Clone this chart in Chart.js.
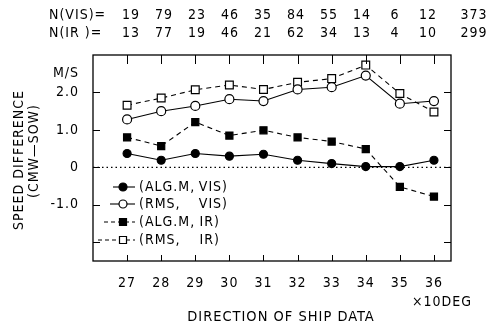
<!DOCTYPE html>
<html>
<head>
<meta charset="utf-8">
<script src="https://cdn.jsdelivr.net/npm/chart.js@4/dist/chart.umd.min.js"></script>
<style>
  html, body { margin: 0; padding: 0; background: #fff; }
  #wrap { width: 487px; height: 328px; position: relative; }
</style>
</head>
<body>
<div id="wrap"><canvas id="chart"></canvas></div>
<script>
// direction bins (x10 deg)
const directions = [27, 28, 29, 30, 31, 32, 33, 34, 35, 36];
const nVis = [19, 79, 23, 46, 35, 84, 55, 14, 6, 12];
const nIr = [13, 77, 19, 46, 21, 62, 34, 13, 4, 10];
const nVisTotal = 373;
const nIrTotal = 299;

// speed difference (CMW - SOW), m/s
const algVis = [0.37, 0.19, 0.37, 0.30, 0.35, 0.19, 0.10, 0.02, 0.02, 0.19];
const rmsVis = [1.28, 1.50, 1.64, 1.82, 1.77, 2.08, 2.14, 2.45, 1.70, 1.77];
const algIr = [0.80, 0.57, 1.21, 0.85, 0.99, 0.80, 0.69, 0.49, -0.52, -0.78];
const rmsIr = [1.66, 1.85, 2.07, 2.20, 2.08, 2.27, 2.37, 2.73, 1.97, 1.48];

const yTicks = [-2, -1, 0, 1, 2];
const legendLabels = ['(ALG.M,VIS)', '(RMS,  VIS)', '(ALG.M,IR)', '(RMS,  IR)'];

const FONT = '"Liberation Sans Narrow", "DejaVu Sans Condensed", "Arial Narrow", sans-serif';

const toPoints = vals => directions.map((d, i) => ({ x: d, y: vals[i] }));

const datasets = [
  { label: legendLabels[0], data: toPoints(algVis), pointStyle: 'circle', pointRadius: 4,
    pointBackgroundColor: '#000', borderDash: [] },
  { label: legendLabels[1], data: toPoints(rmsVis), pointStyle: 'circle', pointRadius: 4.5,
    pointBackgroundColor: '#fff', borderDash: [] },
  { label: legendLabels[2], data: toPoints(algIr), pointStyle: 'rect', pointRadius: 5,
    pointBackgroundColor: '#000', borderDash: [5, 4] },
  { label: legendLabels[3], data: toPoints(rmsIr), pointStyle: 'rect', pointRadius: 5.5,
    pointBackgroundColor: '#fff', borderDash: [5, 4] }
].map(ds => ({
  ...ds,
  borderColor: '#000',
  borderWidth: 1.1,
  pointBorderColor: '#000',
  pointBorderWidth: 1.2,
  tension: 0
}));

// frame, inward ticks, zero line, texts and legend
const decorations = {
  id: 'decorations',
  beforeDraw(chart) {
    // wider letter spacing, like the typewriter lettering of the original
    chart.ctx.letterSpacing = '1px';
  },
  beforeDatasetsDraw(chart) {
    const { ctx, chartArea: a, scales: { y } } = chart;
    ctx.save();
    ctx.strokeStyle = '#000';
    ctx.lineWidth = 1.2;
    ctx.setLineDash([1.5, 3]);
    ctx.beginPath();
    ctx.moveTo(a.left, y.getPixelForValue(0));
    ctx.lineTo(a.right, y.getPixelForValue(0));
    ctx.stroke();
    ctx.restore();
  },
  afterDraw(chart) {
    const { ctx, chartArea: a, scales: { x, y } } = chart;
    ctx.save();
    ctx.strokeStyle = '#000';
    ctx.lineWidth = 1.3;
    ctx.strokeRect(a.left, a.top, a.right - a.left, a.bottom - a.top);

    ctx.lineWidth = 1;
    ctx.beginPath();
    directions.forEach(d => {
      const px = Math.round(x.getPixelForValue(d)) + 0.5;
      ctx.moveTo(px, a.top); ctx.lineTo(px, a.top + 9);
      ctx.moveTo(px, a.bottom); ctx.lineTo(px, a.bottom - 6);
    });
    yTicks.forEach(v => {
      const py = Math.round(y.getPixelForValue(v)) + 0.5;
      ctx.moveTo(a.left, py); ctx.lineTo(a.left + 7, py);
      ctx.moveTo(a.right, py); ctx.lineTo(a.right - 7, py);
    });
    ctx.stroke();

    ctx.fillStyle = '#000';
    ctx.font = '14px ' + FONT;
    ctx.letterSpacing = '1px';
    ctx.textBaseline = 'middle';

    // sample counts on top
    ctx.textAlign = 'left';
    ctx.fillText('N(VIS)=', 49, 15);
    ctx.fillText('N(IR )=', 49, 33);
    ctx.textAlign = 'center';
    directions.forEach((d, i) => {
      const px = 131 + 33 * i;
      ctx.fillText(String(nVis[i]), px, 15);
      ctx.fillText(String(nIr[i]), px, 33);
    });
    ctx.fillText(String(nVisTotal), 474, 15);
    ctx.fillText(String(nIrTotal), 474, 33);

    // unit label
    ctx.textAlign = 'right';
    ctx.fillText('M/S', 79, y.getPixelForValue(2.5));

    // x-axis unit and title
    ctx.textAlign = 'left';
    ctx.fillText('\u00d710DEG', 412, 302);
    ctx.font = '14.5px ' + FONT;
    ctx.textAlign = 'center';
    ctx.fillText('DIRECTION OF SHIP DATA', 281, 317);

    // y-axis title
    ctx.font = '14px ' + FONT;
    ctx.save();
    ctx.translate(19, 160);
    ctx.rotate(-Math.PI / 2);
    ctx.fillText('SPEED DIFFERENCE', 0, 0);
    ctx.restore();
    ctx.save();
    ctx.translate(34, 151);
    ctx.rotate(-Math.PI / 2);
    ctx.fillText('(CMW\u2014SOW)', 0, 0);
    ctx.restore();

    // legend
    const rows = [187, 204, 222, 240];
    const starts = [113, 110, 104, 98];
    const rightEdge = [227, 227, 219, 219];
    chart.data.datasets.forEach((ds, i) => {
      const cy = rows[i];
      const cx = 123;
      ctx.save();
      ctx.lineWidth = 1.1;
      ctx.setLineDash(ds.borderDash.length ? [4, 3] : []);
      ctx.beginPath();
      ctx.moveTo(starts[i], cy);
      ctx.lineTo(135, cy);
      ctx.stroke();
      ctx.setLineDash([]);
      ctx.fillStyle = ds.pointBackgroundColor;
      ctx.lineWidth = 1.2;
      ctx.beginPath();
      if (ds.pointStyle === 'circle') {
        ctx.arc(cx, cy, 4, 0, Math.PI * 2);
      } else {
        ctx.rect(cx - 3.5, cy - 3.5, 7, 7);
      }
      ctx.fill();
      ctx.stroke();
      ctx.restore();
      // label split so the second field lines up like the original
      const cut = ds.label.lastIndexOf(',') + 1;
      const head = ds.label.slice(0, cut);
      const tail = ds.label.slice(cut).trim();
      ctx.textAlign = 'left';
      ctx.fillText(head, 139, cy);
      ctx.textAlign = 'right';
      ctx.fillText(tail, rightEdge[i] + 1, cy);
    });
    ctx.restore();
  }
};

new Chart(document.getElementById('chart'), {
  type: 'line',
  data: { datasets },
  options: {
    responsive: true,
    maintainAspectRatio: false,
    animation: false,
    layout: { padding: { top: 55, right: 36, left: 0, bottom: 0 } },
    plugins: { legend: { display: false }, tooltip: { enabled: false } },
    scales: {
      x: {
        type: 'linear',
        min: 26,
        max: 36.5,
        afterBuildTicks: s => { s.ticks = directions.map(v => ({ value: v })); },
        afterFit: s => { s.height = 67; },
        grid: { display: false, drawTicks: false },
        border: { display: false },
        ticks: {
          padding: 14,
          color: '#000',
          font: { family: FONT, size: 14 },
          maxRotation: 0,
          callback: v => String(v)
        }
      },
      y: {
        type: 'linear',
        min: -2.5,
        max: 3.0,
        afterBuildTicks: s => { s.ticks = yTicks.map(v => ({ value: v })); },
        afterFit: s => { s.width = 93; },
        grid: { display: false, drawTicks: false },
        border: { display: false },
        ticks: {
          padding: 14,
          color: '#000',
          font: { family: FONT, size: 14 },
          callback: v => (v === -2 ? '' : v === 0 ? '0' : v.toFixed(1))
        }
      }
    }
  },
  plugins: [decorations]
});
</script>
</body>
</html>
